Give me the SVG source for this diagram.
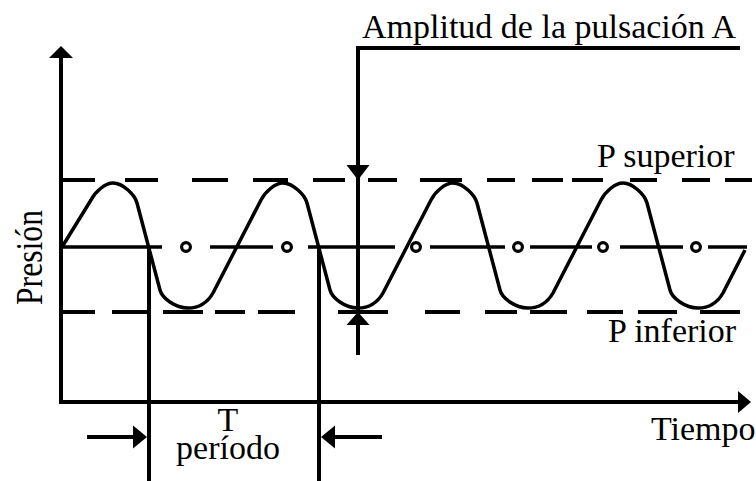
<svg xmlns="http://www.w3.org/2000/svg" width="756" height="481" viewBox="0 0 756 481">
<style>
.ln{stroke:#000;stroke-width:4;fill:none}
.mid{stroke:#000;stroke-width:3.5;fill:none}
.crv{stroke:#000;stroke-width:3.5;fill:none;stroke-linejoin:round}
.dot{stroke:#000;stroke-width:3.2;fill:#fff}
.hd{fill:#000}
.t{font-family:"Liberation Serif","Times New Roman",serif;font-size:34px;fill:#000}
</style>
<rect width="756" height="481" fill="#fff"/>
<g id="axes">
<line class="ln" x1="61" y1="56" x2="61" y2="404"/>
<polygon class="hd" points="61,46 49,58 73,58"/>
<line class="ln" x1="59" y1="402" x2="740" y2="402"/>
<polygon class="hd" points="751,402 738,391 738,413"/>
</g>
<g id="p-superior-line">
<path class="ln" d="M60 180H95M125 180H158M192 180H228M253 180H288M313 180H345M368 180H397M420 180H462M487 180H515M532 180H563M572 180H603M630 180H657M682 180H710M725 180H752"/>
</g>
<g id="mean-line">
<path class="mid" d="M62 247H162M210 247H273M308 247H395M430 247H505M530 247H592M620 247H683M708 247H747"/>
<circle class="dot" cx="186" cy="247" r="4.4"/>
<circle class="dot" cx="287" cy="247" r="4.4"/>
<circle class="dot" cx="416" cy="247" r="4.4"/>
<circle class="dot" cx="518" cy="247" r="4.4"/>
<circle class="dot" cx="603" cy="247" r="4.4"/>
<circle class="dot" cx="696" cy="247" r="4.4"/>
</g>
<g id="p-inferior-line">
<path class="ln" d="M60 312H95M112 312H147M163 312H203M215 312H245M258 312H295M338 312H388M425 312H460M485 312H517M530 312H567M587 312H623M638 312H677M700 312H740"/>
</g>
<g id="wave">
<path class="crv" d="M62,247 L91,200 C95,192 105,183 113,183 C123,183 135,195 137,203 L160,290 C162,298 175,308 188,308 C201,308 209,300 213,293 L261,200 C265,192 275,183 283,183 C293,183 305,195 307,203 L330,290 C332,298 345,308 358,308 C371,308 379,300 383,293 L431,200 C435,192 445,183 453,183 C463,183 475,195 477,203 L500,290 C502,298 515,308 528,308 C541,308 549,300 553,293 L601,200 C605,192 615,183 623,183 C633,183 645,195 647,203 L670,290 C672,298 685,308 698,308 C711,308 719,300 723,293 L745,250"/>
</g>
<g id="connectors">
<path class="ln" d="M740 48H358V355"/>
<polygon class="hd" points="358,180 346.5,165 369.5,165"/>
<polygon class="hd" points="358,312 346.5,325 369.5,325"/>
<line class="ln" x1="149" y1="247" x2="149" y2="481"/>
<line class="ln" x1="319" y1="247" x2="319" y2="481"/>
<line class="ln" x1="87" y1="437" x2="134" y2="437"/>
<polygon class="hd" points="147,437 133,425.5 133,448.5"/>
<line class="ln" x1="334" y1="437" x2="382" y2="437"/>
<polygon class="hd" points="321,437 335,425.5 335,448.5"/>
</g>
<g id="label-amplitud"><text class="t" x="362" y="38">Amplitud de la pulsación A</text></g>
<g id="label-p-superior"><text class="t" x="597" y="167">P superior</text></g>
<g id="label-p-inferior"><text class="t" x="608" y="342">P inferior</text></g>
<g id="label-tiempo"><text class="t" x="651" y="440">Tiempo</text></g>
<g id="label-presion"><text class="t" style="font-size:37px" transform="translate(42,257.5) rotate(-90)" text-anchor="middle" textLength="95" lengthAdjust="spacingAndGlyphs">Presión</text></g>
<g id="label-periodo">
<text class="t" x="228" y="431" text-anchor="middle">T</text>
<text class="t" x="228" y="459" text-anchor="middle">período</text>
</g>
</svg>
